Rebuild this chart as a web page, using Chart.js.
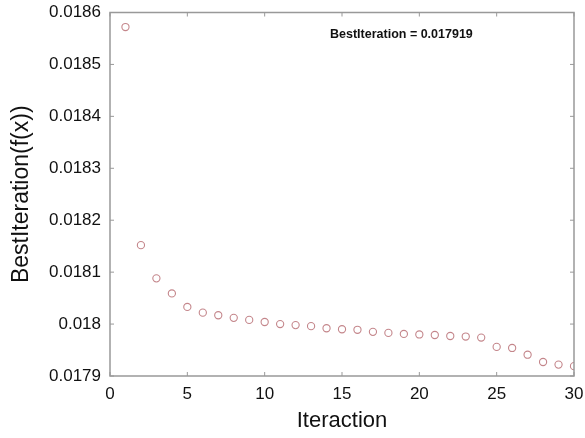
<!DOCTYPE html>
<html><head><meta charset="utf-8">
<script src="https://cdn.jsdelivr.net/npm/chart.js@4/dist/chart.umd.min.js"></script>
<style>html,body{margin:0;padding:0;background:#fff}#wrap{width:585px;height:438px}</style>
</head><body><div id="wrap"><canvas id="c" width="585" height="438"></canvas></div>
<script>
const iterations = [1,2,3,4,5,6,7,8,9,10,11,12,13,14,15,16,17,18,19,20,21,22,23,24,25,26,27,28,29,30];
const bestValues = [0.018572,0.018152,0.018088,0.018059,0.018033,0.018022,0.018017,0.018012,0.018008,0.018004,
  0.018000,0.017998,0.017996,0.017992,0.017990,0.017989,0.017985,0.017983,0.017981,0.017980,
  0.017979,0.017977,0.017976,0.017974,0.017956,0.017954,0.017941,0.017927,0.017922,0.017919];
const xTicks = [0,5,10,15,20,25,30];
const yTicks = [0.0179,0.018,0.0181,0.0182,0.0183,0.0184,0.0185,0.0186];
const annotationText = 'BestIteration = 0.017919';

const frame = {
  id:'frame',
  afterDraw(chart){
    const ctx = chart.ctx, a = chart.chartArea, xs = chart.scales.x, ys = chart.scales.y;
    ctx.save();
    ctx.strokeStyle = '#999'; ctx.lineWidth = 1.5;
    ctx.strokeRect(a.left, a.top, a.right-a.left, a.bottom-a.top);
    ctx.lineWidth = 1;
    const L = 4;
    xTicks.forEach(v=>{const p=xs.getPixelForValue(v);
      ctx.beginPath();ctx.moveTo(p,a.bottom);ctx.lineTo(p,a.bottom-L);ctx.moveTo(p,a.top);ctx.lineTo(p,a.top+L);ctx.stroke();});
    yTicks.forEach(v=>{const p=ys.getPixelForValue(v);
      ctx.beginPath();ctx.moveTo(a.left,p);ctx.lineTo(a.left+L,p);ctx.moveTo(a.right,p);ctx.lineTo(a.right-L,p);ctx.stroke();});
    ctx.fillStyle = '#111';
    ctx.font = 'bold 12.5px "Liberation Sans", Arial, sans-serif';
    ctx.textBaseline = 'middle'; ctx.textAlign = 'left';
    ctx.fillText(annotationText, a.left + 220, a.top + 22);
    ctx.restore();
  }
};

new Chart(document.getElementById('c'), {
  type:'scatter',
  data:{datasets:[{data: iterations.map((x,i)=>({x, y: bestValues[i]})),
    pointStyle:'circle', pointRadius:3.6, borderColor:'#c4868b', backgroundColor:'rgba(0,0,0,0)', borderWidth:1.1}]},
  options:{
    responsive:false, animation:false,
    layout:{padding:{top:12.5, right:11, left:0, bottom:0}},
    plugins:{legend:{display:false}, tooltip:{enabled:false}},
    scales:{
      x:{type:'linear', min:0, max:30,
        afterBuildTicks(s){s.ticks = xTicks.map(v=>({value:v}));},
        afterFit(s){s.height = 62; s.paddingLeft = 0; s.paddingRight = 0;},
        grid:{display:false, drawTicks:false}, border:{display:false},
        ticks:{padding:8, color:'#111', font:{family:'"Liberation Sans", Arial, sans-serif', size:17}, maxRotation:0},
        title:{display:true, text:'Iteraction', color:'#111', padding:{top:4,bottom:4}, font:{family:'"Liberation Sans", Arial, sans-serif', size:22}}},
      y:{type:'linear', min:0.0179, max:0.0186,
        afterBuildTicks(s){s.ticks = yTicks.map(v=>({value:v}));},
        afterFit(s){s.width = 110; s.paddingTop = 0; s.paddingBottom = 0;},
        grid:{display:false, drawTicks:false}, border:{display:false},
        ticks:{padding:9, color:'#111', font:{family:'"Liberation Sans", Arial, sans-serif', size:17},
          callback:v=>String(parseFloat(v.toFixed(4)))},
        title:{display:true, text:'BestIteration(f(x))', color:'#111', padding:{top:8,bottom:4}, font:{family:'"Liberation Sans", Arial, sans-serif', size:23}}}
    }
  },
  plugins:[frame]
});
</script></body></html>
